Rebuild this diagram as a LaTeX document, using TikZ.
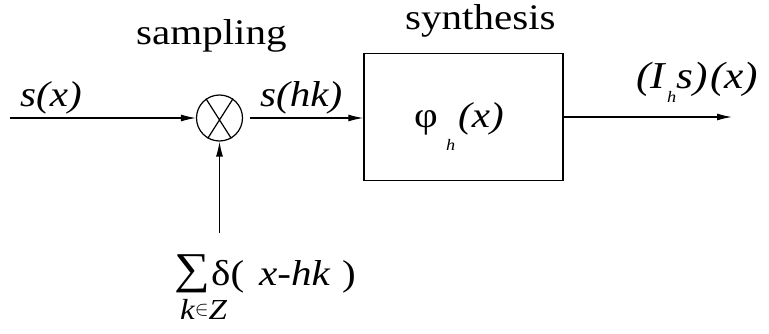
\documentclass[tikz,border=0pt]{standalone}
\usepackage{fontspec}
\setmainfont[FakeStretch=1.14]{Liberation Serif}
\usetikzlibrary{arrows.meta}
\begin{document}
\begin{tikzpicture}[x=1pt,y=-1pt,
  lbl/.style={inner sep=0pt,anchor=base west,font=\fontsize{36}{42}\selectfont},
  ital/.style={lbl,font=\fontsize{36}{42}\selectfont\itshape},
  big/.style={lbl,font=\fontsize{38}{44}\selectfont\itshape},
  sub/.style={inner sep=0pt,anchor=base west,font=\fontsize{16}{18}\selectfont\itshape},
  conn/.style={line width=1.2pt,-{Latex[length=15pt,width=7pt]}},
  blk/.style={draw,line width=1.4pt,minimum width=199pt,minimum height=127pt,inner sep=0pt}]
\useasboundingbox (0,0) rectangle (769,334);
% labels
\node[lbl] (samp) at (136,45) {sampling};
\node[lbl] (synt) at (405,30) {synthesis};
% multiplier
\node[draw,circle,line width=1.2pt,minimum size=46pt,inner sep=0pt] (mul) at (219.5,118) {};
\draw[line width=1.2pt] (mul.125) -- (mul.-60) (mul.55) -- (mul.-120);
% box
\node[blk] (box) at (463.5,117) {};
% connectors
\coordinate (in) at (10,118);
\coordinate (out) at (732,117);
\coordinate (vin) at (219.5,233);
\draw[conn] (in) -- (mul.west);
\draw[conn] ([xshift=7pt]mul.east) -- (box.west |- mul.east);
\draw[conn] (box.east) -- (out);
\draw[conn] (vin) -- (mul.south);
% signal labels
\node[ital] (sx) at (20,107) {s(x)};
\node[ital] (shk) at (260,107) {s(hk)};
% phi_h(x)
\node[lbl] (phi) at (414,128) {φ};
\node[sub] (phih) at (446,151) {h};
\node[ital] (phix) at (458,128) {(x)};
% (I_h s)(x)
\node[big] (ih) at (636,89) {(I};
\node[sub] (ihh) at (667,103) {h};
\node[big] (ihs) at (676,89) {s)};
\node[big] (ihx) at (710,89) {(x)};
% sum
\node[lbl,font=\fontsize{44}{50}\selectfont] (sig) at (174,283) {∑};
\node[lbl] (del) at (211,285) {δ(};
\node[ital] (arg) at (259,285) {x-hk};
\node[lbl] (cp) at (342,285) {)};
\node[lbl,font=\fontsize{29}{32}\selectfont\itshape] (kz) at (180,319) {k\raisebox{4pt}{\fontsize{20}{22}\selectfont$\in$}Z};
\end{tikzpicture}
\end{document}
